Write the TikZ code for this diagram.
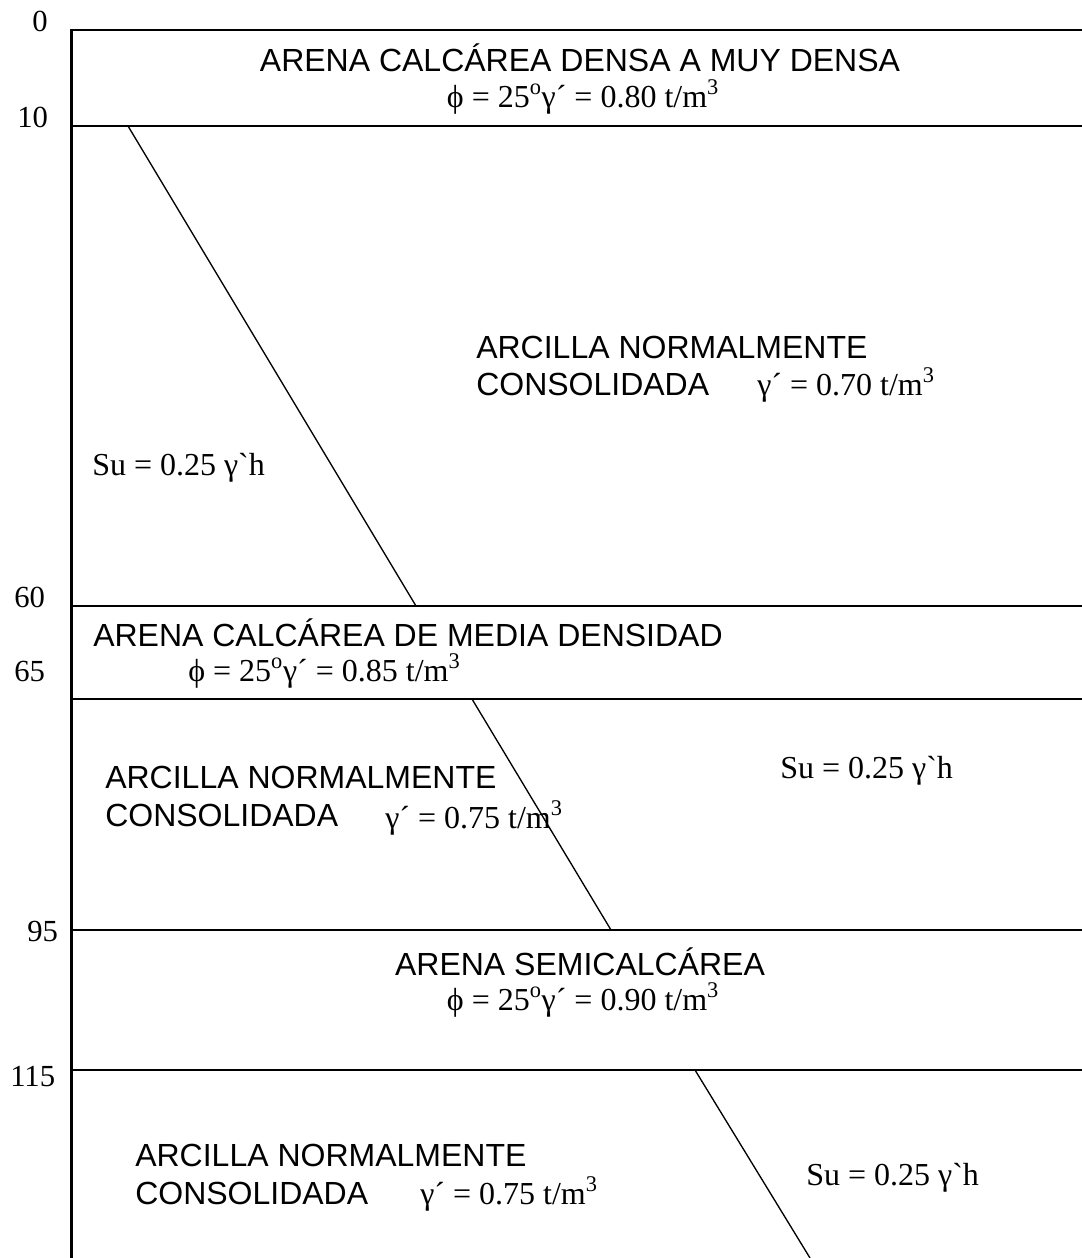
\documentclass[tikz,border=0pt]{standalone}
\usepackage{fontspec}
\setmainfont{Liberation Sans}
\newfontfamily\tnr{Liberation Serif}[Ligatures=TeXOff]
\begin{document}
\begin{tikzpicture}[x=0.75pt,y=-0.75pt,
  sans/.style={font=\fontsize{24}{28}\selectfont, inner sep=0pt, anchor=base west},
  serif/.style={font=\tnr\fontsize{24}{28}\selectfont, inner sep=0pt, anchor=base west},
  depth/.style={font=\tnr\fontsize{23}{27}\selectfont, inner sep=0pt, anchor=base west},
  layer/.style={line width=1.5pt},
  axisline/.style={line width=2.3pt},
  slope/.style={line width=1pt}]
\useasboundingbox (0,0) rectangle (1082,1258);
% coordinates
\coordinate (a0) at (71.5,29.2);
\coordinate (a1) at (71.5,1258);
\foreach \n/\y in {h0/30,h10/126,h60/606,h65/699,h95/930,h115/1070}{
  \coordinate (\n L) at (71.5,\y);
  \coordinate (\n R) at (1082,\y);
}
\coordinate (d1a) at (128,126);
\coordinate (d1b) at (416,606);
\coordinate (d2a) at (472,699);
\coordinate (d2b) at (611,930);
\coordinate (d3a) at (695,1070);
\coordinate (d3b) at (810,1258);
% lines
\foreach \n in {h0,h10,h60,h65,h95,h115}{\draw[layer] (\n L) -- (\n R);}
\draw[axisline] (a0) -- (a1);
\draw[slope] (d1a) -- (d1b);
\draw[slope] (d2a) -- (d2b);
\draw[slope] (d3a) -- (d3b);
% depth labels
\node[depth] (l0) at (32,31) {0};
\node[depth] (l10) at (17,127) {10};
\node[depth] (l60) at (14,607) {60};
\node[depth] (l65) at (14,681) {65};
\node[depth] (l95) at (27,941) {95};
\node[depth] (l115) at (10,1086) {115};
% layer 1
\node[sans,anchor=base] (t1) at (580,71) {ARENA CALCÁREA DENSA A MUY DENSA};
\node[serif,anchor=base] (f1) at (583,107) {ϕ = 25\textsuperscript{o}γ´ = 0.80 t/m\textsuperscript{3}};
% layer 2
\node[sans] (c1a) at (476,358) {ARCILLA NORMALMENTE};
\node[sans] (c1b) at (476,395) {CONSOLIDADA};
\node[serif] (g1) at (757,395) {γ´ = 0.70 t/m\textsuperscript{3}};
\node[serif] (s1) at (92,475) {Su = 0.25 γ`h};
% layer 3
\node[sans] (t2) at (93,646) {ARENA CALCÁREA DE MEDIA DENSIDAD};
\node[serif] (f2) at (188,681) {ϕ = 25\textsuperscript{o}γ´ = 0.85 t/m\textsuperscript{3}};
% layer 4
\node[sans] (c2a) at (105,788) {ARCILLA NORMALMENTE};
\node[sans] (c2b) at (105,826) {CONSOLIDADA};
\node[serif] (g2) at (385,828) {γ´ = 0.75 t/m\textsuperscript{3}};
\node[serif] (s2) at (780,778) {Su = 0.25 γ`h};
% layer 5
\node[sans,anchor=base] (t3) at (580,975) {ARENA SEMICALCÁREA};
\node[serif,anchor=base] (f3) at (583,1010) {ϕ = 25\textsuperscript{o}γ´ = 0.90 t/m\textsuperscript{3}};
% layer 6
\node[sans] (c3a) at (135,1166) {ARCILLA NORMALMENTE};
\node[sans] (c3b) at (135,1204) {CONSOLIDADA};
\node[serif] (g3) at (420,1204) {γ´ = 0.75 t/m\textsuperscript{3}};
\node[serif] (s3) at (806,1185) {Su = 0.25 γ`h};
\end{tikzpicture}
\end{document}
